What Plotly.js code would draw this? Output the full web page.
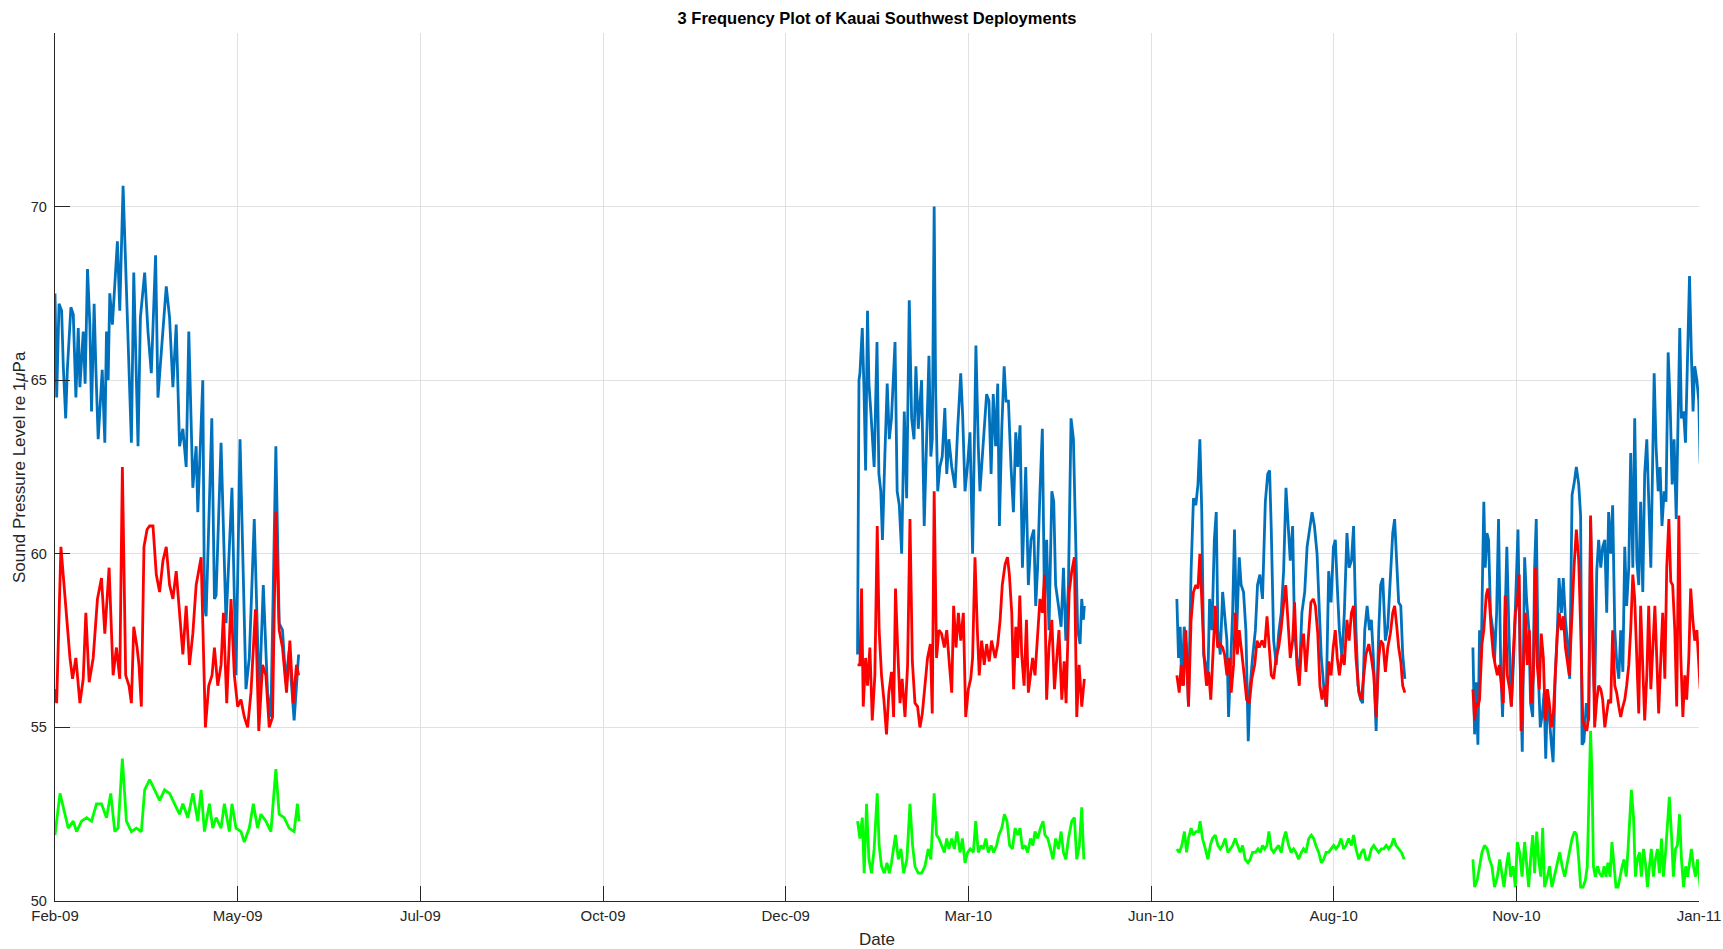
<!DOCTYPE html>
<html>
<head>
<meta charset="utf-8">
<script src="https://cdn.plot.ly/plotly-3.0.1.min.js"></script>
<style>
  html, body { margin: 0; padding: 0; background: #ffffff; }
  #chart { width: 1723px; height: 949px; }
</style>
</head>
<body>
<div id="chart"></div>
<script>
// Time base: day numbers counted from 24 Feb 2009 (left edge of the axis)
const axisOriginUTC = Date.UTC(2009, 1, 24);
const axisEndDay = 693;

// Date axis ticks (day numbers) and their labels
const tickDays = [0, 77, 154, 231, 308, 385, 462, 539, 616, 693];
const tickLabels = ['Feb-09', 'May-09', 'Jul-09', 'Oct-09', 'Dec-09', 'Mar-10', 'Jun-10', 'Aug-10', 'Nov-10', 'Jan-11'];

// Start day of each deployment
const deploymentStart = [0, 338.3, 472.9, 597.7];

// ---------------- Deployment 1 ----------------
const dep1BlueT = [0.0,0.7,1.7,2.8,3.5,4.5,5.2,6.7,7.7,8.8,9.8,10.5,11.9,12.7,13.7,14.7,15.4,16.5,17.2,18.2,19.9,21.0,21.7,22.4,23.1,24.2,26.3,27.3,28.7,29.8,30.8,32.2,33.2,34.0,35.0,36.0,37.8,39.2,40.6,42.4,43.4,44.8,46.9,48.3,49.7,51.1,52.5,53.9,55.3,56.4,58.1,59.5,60.2,62.3,63.0,63.7,66.1,67.2,67.9,70.0,72.1,74.6,76.3,78.0,80.5,81.9,84.0,86.1,87.8,89.6,91.0,93.1,94.5,95.9,97.3,98.7,100.8,102.7];
const dep1BlueV = [67.5,64.5,67.2,67.0,65.4,63.9,65.3,67.1,66.9,64.5,66.5,64.8,66.4,64.9,68.2,66.6,64.1,67.2,65.4,63.3,65.3,63.2,66.4,65.0,67.5,66.6,69.0,67.0,70.6,68.4,66.6,63.2,68.1,65.5,63.1,66.8,68.1,66.4,65.2,68.6,64.5,65.8,67.7,66.8,64.8,66.6,63.1,63.6,62.5,66.4,61.9,63.1,61.2,65.0,58.5,58.2,63.9,58.7,58.8,63.2,58.0,61.9,56.5,63.3,56.1,57.0,61.0,55.8,59.1,56.0,55.3,63.1,58.0,57.8,56.3,57.2,55.2,57.1];
const dep1RedT = [0.0,0.7,2.5,3.5,4.9,6.3,7.4,8.8,10.5,11.9,13.0,14.4,16.1,17.9,19.6,21.0,22.8,24.5,25.9,27.3,28.4,29.8,31.2,32.2,33.2,34.6,35.4,36.4,37.5,38.8,39.9,41.3,42.7,44.1,45.5,46.9,48.3,49.7,51.1,52.5,53.9,55.3,56.7,58.1,59.5,61.6,62.6,63.4,64.8,66.2,67.2,68.6,70.0,71.0,72.4,74.2,75.6,77.0,78.4,79.8,81.2,82.6,84.5,85.9,87.5,88.9,90.3,91.7,93.1,94.5,95.9,97.6,99.0,100.4,101.8,102.7];
const dep1RedV = [56.1,55.7,60.2,59.4,58.1,57.0,56.4,57.0,55.7,56.4,58.3,56.3,57.0,58.7,59.3,57.7,59.6,56.5,57.3,56.4,62.5,56.5,56.2,55.7,57.9,57.3,56.8,55.6,60.2,60.7,60.8,60.8,59.4,58.9,59.8,60.2,59.1,58.7,59.5,58.3,57.1,58.5,56.8,57.7,59.1,59.9,57.5,55.0,56.2,56.5,57.3,56.2,56.8,58.3,55.7,58.7,56.5,55.6,55.8,55.3,55.0,56.0,58.4,54.9,56.8,56.5,55.0,55.3,61.2,57.8,57.3,56.0,57.5,55.7,56.8,56.5];
const dep1GreenT = [0.0,2.1,4.2,5.6,7.7,9.1,11.2,13.3,15.4,17.5,19.6,21.7,23.5,25.2,26.6,28.4,30.1,32.2,34.3,36.4,37.8,39.9,42.0,44.1,46.2,48.3,50.4,52.5,53.9,56.0,58.1,60.2,61.6,63.0,65.1,66.5,67.9,70.0,71.4,73.5,74.6,76.3,78.4,79.8,81.9,83.6,85.4,86.8,88.9,91.0,93.1,94.5,96.6,98.7,100.8,102.2,102.9];
const dep1GreenV = [51.9,53.1,52.5,52.1,52.3,52.0,52.3,52.4,52.3,52.8,52.8,52.4,53.1,52.0,52.1,54.1,52.3,52.0,52.1,52.0,53.2,53.5,53.2,52.9,53.2,53.1,52.8,52.5,52.8,52.4,53.1,52.3,53.2,52.0,52.8,52.1,52.4,52.1,52.8,52.0,52.8,52.1,52.0,51.7,52.1,52.8,52.1,52.5,52.3,52.0,53.8,52.5,52.4,52.1,52.0,52.8,52.3];

// ---------------- Deployment 2 ----------------
const dep2BlueT = [0.0,0.6,1.0,2.0,2.7,3.4,4.2,4.8,5.6,6.3,7.0,8.2,9.0,9.8,10.5,11.5,12.5,13.4,14.3,15.8,16.7,17.6,18.6,19.7,20.7,21.8,22.8,23.8,24.6,25.6,27.0,28.1,29.1,30.1,30.9,31.5,32.3,32.9,33.8,34.7,35.7,36.8,37.6,38.5,39.7,41.1,42.2,43.5,44.3,45.3,46.3,47.4,48.5,49.9,50.9,51.6,52.3,53.4,54.4,55.4,56.3,57.2,58.2,59.1,59.8,60.8,61.8,62.6,63.6,64.7,65.7,66.7,67.5,68.5,69.5,70.9,72.0,73.1,74.3,75.1,75.9,76.9,77.9,78.8,79.7,80.7,81.9,82.7,83.5,84.7,85.8,86.8,87.8,88.9,90.0,91.0,92.0,92.8,93.8,94.5,95.2,95.6];
const dep2BlueV = [57.1,65.0,65.2,66.5,64.8,62.4,67.0,64.9,64.1,63.1,62.5,66.1,62.3,61.8,60.4,62.8,64.9,63.3,63.9,66.1,61.8,61.4,60.0,64.1,61.6,67.3,63.9,63.3,65.4,63.6,65.0,60.8,63.5,65.7,62.8,63.3,70.0,64.8,61.8,62.5,62.8,64.2,62.3,63.3,62.5,61.9,63.6,65.2,64.0,61.8,62.5,63.5,60.0,66.0,63.1,61.8,62.5,63.6,64.6,64.4,62.3,64.6,63.1,64.9,60.8,63.6,65.4,64.4,64.4,62.5,61.2,63.5,62.5,63.7,59.6,62.5,59.1,60.4,60.7,58.5,59.6,61.8,63.6,58.5,60.4,57.8,61.8,61.5,59.1,58.5,57.9,59.6,57.5,59.1,63.9,63.3,60.4,57.8,57.4,58.7,58.1,58.5];
const dep2RedT = [0.0,1.0,1.7,2.4,3.4,4.2,5.2,6.2,7.3,8.3,9.1,10.1,11.1,12.2,13.2,14.3,15.2,16.0,16.9,17.9,18.8,20.0,21.1,22.1,23.1,24.2,25.3,26.3,27.3,28.4,29.5,30.7,31.5,32.3,33.3,34.3,35.4,36.6,37.6,38.5,39.7,40.5,41.5,42.5,43.5,44.6,45.6,46.7,47.7,48.5,49.5,50.5,51.3,52.3,53.4,54.4,55.5,56.5,58.0,59.1,60.1,61.0,62.2,63.2,64.0,65.0,65.8,66.7,67.5,68.4,69.2,70.2,71.2,72.0,73.0,73.8,74.8,75.8,76.9,77.9,78.8,79.7,80.7,81.9,83.0,84.0,84.9,86.1,87.1,87.9,89.2,90.3,91.4,92.4,93.4,94.5,95.6];
const dep2RedV = [56.8,56.8,59.0,55.6,57.0,56.2,57.3,55.2,56.5,60.8,57.8,56.5,55.8,54.8,56.0,56.6,55.3,59.0,57.3,55.7,56.4,55.3,56.8,61.0,56.9,55.7,55.6,55.0,55.4,56.2,57.0,57.4,55.4,61.8,57.0,57.8,57.7,57.3,57.8,57.0,56.0,58.5,57.3,58.3,57.5,58.3,55.3,56.1,56.4,57.0,59.9,57.8,56.5,57.5,56.8,57.4,56.9,57.5,57.0,57.4,58.1,59.1,59.7,59.9,59.4,58.3,56.1,57.9,57.0,58.8,57.1,56.2,58.1,56.0,56.6,57.0,56.5,57.5,58.7,58.3,59.4,55.8,57.3,58.1,56.1,57.0,57.8,55.8,56.9,55.7,58.9,59.5,59.9,55.3,56.8,55.6,56.4];
const dep2GreenT = [0.0,1.0,2.0,2.8,3.8,4.8,5.9,7.0,8.3,9.1,10.1,11.3,12.4,13.4,14.3,15.2,16.0,17.2,18.3,19.4,20.8,22.1,23.2,24.2,25.6,27.0,28.4,29.8,30.9,32.3,33.3,34.3,35.4,36.6,37.6,38.5,39.7,40.8,41.9,43.2,44.2,45.3,46.4,47.5,48.8,49.8,50.9,52.0,53.0,54.1,55.1,56.3,57.4,58.6,59.6,60.8,61.9,63.0,64.1,65.3,66.4,67.5,68.5,69.5,70.6,71.7,72.9,73.9,74.8,75.9,77.1,78.2,79.0,80.2,81.3,82.4,83.5,84.7,85.8,86.8,87.8,88.9,90.3,91.4,92.4,93.5,94.5,95.4];
const dep2GreenV = [52.3,51.8,52.4,50.8,52.8,51.2,50.8,51.5,53.1,51.6,51.0,50.8,51.1,50.8,51.1,51.5,51.9,51.2,51.5,50.8,51.2,52.8,51.6,51.0,50.8,50.8,51.0,51.5,51.2,53.1,51.9,51.8,51.6,51.4,51.8,51.5,51.8,51.5,52.0,51.4,51.8,51.1,51.4,51.5,51.4,52.3,51.4,51.6,51.5,51.8,51.4,51.6,51.4,51.6,51.9,52.1,52.5,52.3,51.6,51.5,52.1,51.9,52.1,51.5,51.6,51.4,51.8,51.6,52.0,51.8,52.1,52.3,51.9,51.8,51.5,51.2,51.8,51.5,52.0,51.4,51.2,51.8,52.3,52.4,51.2,51.6,52.7,51.2];

// ---------------- Deployment 3 ----------------
const dep3BlueT = [0.0,0.7,1.4,2.1,3.1,3.9,4.9,6.0,7.0,8.0,8.9,9.7,10.5,11.3,12.2,13.1,13.8,14.8,15.8,16.6,17.3,18.3,19.3,20.1,21.1,21.8,22.6,23.5,24.3,25.2,26.3,27.1,28.1,29.1,30.1,30.9,31.9,33.1,34.0,35.0,36.1,37.3,38.3,39.1,39.8,40.8,41.9,42.9,44.0,45.0,46.0,46.8,47.8,48.8,49.6,50.6,51.6,52.7,53.9,54.9,55.9,57.0,58.0,59.1,60.1,60.9,61.9,62.9,64.0,65.0,66.0,66.8,67.6,68.5,69.6,70.6,71.7,72.6,73.6,74.5,75.5,76.4,77.4,78.3,79.2,80.2,81.2,82.0,83.0,84.0,85.1,85.9,86.8,87.9,88.9,90.0,91.0,91.8,92.7,93.5,94.4,95.2,96.1];
const dep3BlueV = [58.7,57.0,57.9,56.2,57.9,57.4,55.6,59.5,61.6,61.4,62.0,63.3,61.2,57.1,56.8,56.5,58.7,57.8,60.4,61.2,57.8,57.1,58.9,58.3,57.5,55.3,57.0,58.3,60.7,57.7,59.9,59.1,58.9,57.8,54.6,56.2,57.0,57.8,59.1,59.4,58.7,61.5,62.3,62.4,60.7,57.5,56.8,57.7,58.3,59.5,61.9,61.0,59.8,60.8,57.8,57.0,56.4,58.3,58.9,60.2,60.7,61.2,60.8,60.0,58.3,57.0,56.2,55.6,59.5,58.6,60.2,60.4,59.1,57.8,57.0,58.3,60.6,59.6,59.8,60.8,57.8,56.2,55.8,55.7,57.8,58.5,57.8,58.1,56.8,54.9,57.8,59.1,59.3,57.5,57.9,59.5,60.6,61.0,59.8,58.6,58.5,57.1,56.4];
const dep3RedT = [0.0,1.0,1.8,2.8,3.8,4.9,6.0,7.0,8.0,8.9,9.7,10.5,11.5,12.5,13.4,14.3,15.2,16.2,17.2,18.3,19.3,20.1,21.1,22.1,22.9,23.9,24.6,25.5,26.3,27.4,28.4,29.4,30.5,31.6,32.8,33.8,34.7,35.9,37.0,38.0,39.0,39.8,40.8,41.8,42.9,43.9,44.9,45.9,46.8,47.8,48.8,49.6,50.6,51.6,52.5,53.4,54.4,55.6,56.5,57.5,58.4,59.4,60.3,61.2,62.2,63.1,64.0,65.0,65.9,66.8,67.6,68.5,69.6,70.6,71.7,72.6,73.6,74.5,75.5,76.7,77.8,78.8,79.7,80.9,82.0,83.0,84.0,85.1,85.9,86.9,87.9,88.9,90.0,91.0,91.8,92.7,93.5,94.4,95.2,96.1];
const dep3RedV = [56.5,56.0,56.8,56.2,57.8,55.6,58.1,58.9,59.1,59.0,60.0,58.7,57.0,56.2,56.6,55.8,57.3,58.5,57.3,57.4,57.3,57.1,56.5,57.0,56.0,56.8,58.3,57.1,57.8,57.0,56.5,55.8,55.7,56.4,56.8,57.5,57.3,57.5,57.3,58.2,57.3,56.5,56.4,57.0,57.3,57.8,58.5,59.1,58.1,57.0,57.5,58.6,56.8,56.2,57.3,57.7,56.6,57.9,58.6,58.7,58.5,57.7,56.2,55.8,56.2,55.6,56.9,56.5,57.3,57.8,57.0,56.5,57.1,56.8,58.1,57.5,58.3,58.5,57.0,56.0,55.8,56.5,57.1,57.4,57.0,56.5,55.3,57.0,57.5,57.4,56.6,57.3,57.7,58.3,58.5,57.9,57.3,56.9,56.2,56.0];
const dep3GreenT = [0.0,1.0,2.1,3.2,4.1,4.9,6.0,7.0,8.0,9.1,9.8,10.8,12.0,13.1,14.1,15.0,16.2,17.3,18.3,19.3,20.4,21.5,22.5,23.5,24.6,25.7,26.7,27.7,28.8,30.0,30.9,31.9,33.1,34.2,35.2,36.1,37.0,38.0,38.8,39.8,40.8,41.8,42.9,44.0,45.0,45.9,47.1,48.2,49.2,50.2,51.3,52.5,53.4,54.4,55.6,56.7,57.7,58.6,59.8,60.9,61.9,62.9,64.0,65.0,66.1,67.1,68.2,69.2,70.3,71.3,72.4,73.6,74.5,75.5,76.7,77.8,78.8,79.7,80.9,82.0,83.0,84.0,85.1,86.2,87.2,88.2,89.3,90.4,91.4,92.4,93.5,94.7,95.8];
const dep3GreenV = [51.5,51.4,51.6,52.0,51.4,51.8,52.1,51.9,52.0,52.0,52.3,51.8,51.5,51.2,51.6,51.8,51.9,51.6,51.5,51.6,51.8,51.4,51.5,51.6,51.8,51.6,51.4,51.6,51.2,51.1,51.2,51.4,51.4,51.5,51.4,51.6,51.5,51.6,52.0,51.5,51.4,51.5,51.6,51.4,51.8,52.0,51.6,51.4,51.5,51.4,51.2,51.4,51.5,51.4,51.8,51.9,51.8,51.6,51.4,51.1,51.2,51.4,51.4,51.5,51.6,51.5,51.6,51.8,51.5,51.6,51.8,51.6,51.9,51.5,51.2,51.4,51.5,51.2,51.2,51.5,51.6,51.5,51.4,51.5,51.5,51.6,51.5,51.6,51.8,51.6,51.5,51.4,51.2];

// ---------------- Deployment 4 ----------------
const dep4BlueT = [0.0,0.7,1.4,2.1,2.8,3.5,4.1,4.6,5.2,5.9,6.6,7.4,8.4,9.1,10.0,10.8,11.7,12.5,13.4,14.3,15.2,16.2,17.2,18.1,19.0,19.9,20.8,21.8,22.6,23.6,24.3,25.2,26.0,26.7,27.6,28.4,29.3,30.0,30.7,31.4,32.2,33.1,33.8,34.7,35.6,36.3,37.3,38.1,39.0,39.8,40.8,41.8,42.6,43.6,44.6,45.4,46.0,46.8,47.8,48.8,49.6,50.6,51.3,52.2,53.0,53.9,54.7,55.6,56.4,57.2,58.1,58.9,59.8,60.6,61.5,62.3,63.2,64.0,64.8,65.7,66.5,67.4,68.2,69.1,69.9,70.7,71.6,72.4,73.3,74.1,75.0,75.8,76.4,77.2,78.1,78.9,79.7,80.6,81.4,82.3,83.1,84.0,84.8,85.7,86.5,87.2,87.9,88.8,89.6,90.4,91.3,92.1,92.8,93.5,94.4,95.2,95.8];
const dep4BlueV = [57.3,54.8,56.3,54.5,57.8,57.0,59.6,61.5,59.6,60.6,60.4,58.3,57.8,56.9,58.3,61.0,56.8,55.3,57.7,60.2,57.7,55.6,57.0,58.9,60.7,57.0,54.3,59.9,58.7,57.8,55.7,55.3,59.6,61.0,56.5,55.0,55.4,56.0,54.1,56.0,55.2,54.5,54.0,56.5,57.8,59.3,58.3,59.3,58.1,57.5,56.4,61.7,62.0,62.5,62.0,61.1,54.5,54.6,55.7,55.2,61.0,57.0,55.8,59.5,60.4,59.6,60.2,60.4,58.3,61.2,60.0,61.4,57.8,56.9,56.4,57.8,56.6,60.2,58.5,59.6,62.9,59.6,63.9,59.8,59.1,61.5,58.9,62.3,63.3,61.8,59.6,62.8,65.2,63.1,61.8,62.5,60.8,61.8,61.5,65.8,64.4,62.0,63.3,61.0,63.6,66.5,63.9,64.1,63.2,65.4,68.0,65.7,64.1,65.4,65.0,64.4,62.6];
const dep4RedT = [0.0,0.7,1.4,2.1,2.8,3.8,4.6,5.6,6.3,7.0,7.7,8.6,9.4,10.3,11.1,12.0,12.8,13.6,14.5,15.5,16.2,16.9,17.9,18.7,19.5,20.3,21.2,22.1,22.9,23.8,24.6,25.5,26.3,27.1,28.0,28.8,29.7,30.5,31.4,32.2,33.1,33.9,34.7,35.6,36.4,37.3,38.1,39.0,39.8,40.6,41.8,42.6,43.6,44.6,45.4,46.3,47.1,48.0,48.8,49.6,50.6,51.3,52.2,53.0,53.9,54.7,55.6,56.4,57.2,58.1,58.9,59.8,60.6,61.5,62.3,63.2,64.0,64.8,65.7,66.5,67.4,68.2,69.1,69.9,70.7,71.6,72.4,73.3,74.1,75.0,75.8,76.7,77.5,78.3,79.2,80.0,80.9,81.7,82.6,83.4,84.2,85.1,85.9,86.8,87.6,88.5,89.3,90.1,91.0,91.8,92.7,93.5,94.4,95.2,95.8];
const dep4RedV = [56.1,55.2,55.7,55.6,55.8,57.4,57.8,58.8,59.0,58.6,57.8,57.1,56.8,56.5,56.8,56.2,55.7,58.8,56.5,56.1,55.6,57.0,58.3,58.6,59.4,54.9,56.8,58.3,56.8,57.8,55.7,56.5,59.6,56.8,56.1,57.7,57.0,55.2,56.1,55.7,55.0,55.4,56.5,57.7,58.3,57.8,58.2,57.3,56.9,56.5,58.3,59.6,60.7,59.8,57.9,55.2,55.0,54.9,55.3,61.1,57.8,55.0,55.8,56.2,56.1,55.8,55.0,55.4,55.8,55.7,57.8,56.2,56.0,55.6,55.3,55.6,55.8,56.2,56.8,57.8,59.4,58.7,56.8,55.4,58.5,56.6,55.2,56.5,58.5,56.1,57.3,58.5,57.0,55.4,57.0,58.3,56.4,59.6,61.0,59.2,59.1,57.8,55.6,61.1,57.1,55.3,56.5,55.8,57.0,59.0,58.1,57.5,57.8,57.0,56.1];
const dep4GreenT = [0.0,0.7,1.8,2.8,3.8,4.9,6.0,7.0,8.0,9.1,10.3,11.3,12.2,13.1,14.1,15.0,15.9,16.9,17.9,18.7,19.7,20.7,21.8,22.6,23.5,24.3,25.2,26.0,26.9,27.7,28.6,29.4,30.2,31.4,32.3,33.3,34.5,35.6,36.6,37.6,38.7,39.8,40.8,41.8,42.9,43.7,44.6,45.4,46.4,47.4,48.2,49.1,49.6,50.2,50.8,51.6,52.5,53.4,54.4,55.3,56.1,56.9,57.8,58.6,59.5,60.3,61.2,62.0,62.9,63.7,64.6,65.4,66.3,66.8,67.7,68.5,69.3,70.2,71.0,71.9,72.7,73.6,74.4,75.2,76.1,76.9,77.8,78.6,79.5,80.3,81.2,82.0,82.8,83.7,84.5,85.4,86.2,87.1,87.9,88.8,89.7,90.5,91.4,92.1,93.0,93.8,94.7,95.5,95.8];
const dep4GreenV = [51.2,50.4,50.6,51.0,51.4,51.6,51.5,51.2,51.0,50.4,50.7,51.2,50.8,50.4,51.0,51.4,50.7,51.0,50.4,51.7,51.4,50.7,51.7,51.0,50.4,51.2,51.9,50.8,52.0,51.2,50.7,52.1,50.4,50.7,51.0,50.4,50.8,51.1,51.4,51.0,50.7,51.1,51.5,51.8,52.0,51.9,51.2,50.4,50.4,50.6,51.0,53.8,54.9,53.6,51.0,50.7,51.0,50.8,50.7,51.0,50.7,51.1,50.7,51.7,51.0,50.4,50.4,50.7,51.0,51.2,50.7,51.5,52.5,53.2,52.4,50.7,51.2,51.4,50.7,51.5,51.1,50.4,51.0,51.5,50.7,51.2,51.5,50.8,51.8,50.7,51.4,52.1,53.0,51.9,50.7,51.5,51.6,52.5,51.2,50.4,51.0,50.7,51.2,51.5,51.0,50.7,51.2,50.6,50.4];

// Convert a day number to a Plotly date string (UTC)
function dayToDate(d) {
  return new Date(axisOriginUTC + d * 86400000).toISOString().slice(0, 19).replace('T', ' ');
}

// Join the four deployments into one trace per band, separated by gaps
function joinDeployments(parts) {
  const x = [], y = [];
  parts.forEach(([t, v], i) => {
    t.forEach((dt, k) => { x.push(dayToDate(deploymentStart[i] + dt)); y.push(v[k]); });
    x.push(dayToDate(deploymentStart[i] + t[t.length - 1] + 0.5));
    y.push(null);
  });
  return { x, y };
}

const blue = joinDeployments([[dep1BlueT, dep1BlueV], [dep2BlueT, dep2BlueV], [dep3BlueT, dep3BlueV], [dep4BlueT, dep4BlueV]]);
const red = joinDeployments([[dep1RedT, dep1RedV], [dep2RedT, dep2RedV], [dep3RedT, dep3RedV], [dep4RedT, dep4RedV]]);
const green = joinDeployments([[dep1GreenT, dep1GreenV], [dep2GreenT, dep2GreenV], [dep3GreenT, dep3GreenV], [dep4GreenT, dep4GreenV]]);

const lineTrace = (d, color, w) => ({
  type: 'scatter', mode: 'lines', x: d.x, y: d.y, connectgaps: false,
  line: { color: color, width: w, shape: 'linear' }, hoverinfo: 'x+y'
});

const traces = [
  lineTrace(blue, '#0072BD', 2.8),
  lineTrace(red, '#FF0000', 2.8),
  lineTrace(green, '#00FF00', 2.8)
];

const fontFamily = '"Liberation Sans", Arial, Helvetica, sans-serif';
const axisInk = '#262626';
const gridInk = '#e1e1e1';

const layout = {
  width: 1723,
  height: 949,
  margin: { l: 55, r: 24, t: 33, b: 48 },
  paper_bgcolor: '#ffffff',
  plot_bgcolor: '#ffffff',
  showlegend: false,
  font: { family: fontFamily, color: axisInk, size: 14 },
  title: {
    text: '<b>3 Frequency Plot of Kauai Southwest Deployments</b>',
    font: { family: fontFamily, size: 16.5, color: '#000000' },
    xref: 'paper', x: 0.5, xanchor: 'center',
    yref: 'container', y: 0.981, yanchor: 'middle'
  },
  xaxis: {
    type: 'date',
    range: [dayToDate(0), dayToDate(axisEndDay)],
    tickmode: 'array',
    tickvals: tickDays.map(dayToDate),
    ticktext: tickLabels,
    ticks: 'inside', ticklen: 15, tickwidth: 1, tickcolor: axisInk,
    showline: true, linecolor: axisInk, linewidth: 1.2,
    showgrid: true, gridcolor: gridInk, gridwidth: 1,
    zeroline: false, mirror: false,
    tickfont: { family: fontFamily, size: 15, color: axisInk },
    ticklabelstandoff: 1,
    title: { text: 'Date', font: { family: fontFamily, size: 17, color: axisInk }, standoff: 11 },
    automargin: false
  },
  yaxis: {
    range: [50, 75],
    tickmode: 'array',
    tickvals: [50, 55, 60, 65, 70],
    ticktext: ['50', '55', '60', '65', '70'],
    ticks: 'inside', ticklen: 15, tickwidth: 1, tickcolor: axisInk,
    showline: true, linecolor: axisInk, linewidth: 1.2,
    showgrid: true, gridcolor: gridInk, gridwidth: 1,
    zeroline: false, mirror: false,
    tickfont: { family: fontFamily, size: 14.5, color: axisInk },
    ticklabelstandoff: 4,
    automargin: false
  },
  annotations: [{
    // vertical axis title, placed in the left margin
    text: 'Sound Pressure Level re 1<i>μ</i>Pa',
    textangle: -90,
    xref: 'paper', x: 0, xanchor: 'center', xshift: -36,
    yref: 'paper', y: 0.5, yanchor: 'middle',
    showarrow: false,
    font: { family: fontFamily, size: 17, color: axisInk }
  }]
};

Plotly.newPlot('chart', traces, layout, { displayModeBar: false, staticPlot: true });
</script>
</body>
</html>
